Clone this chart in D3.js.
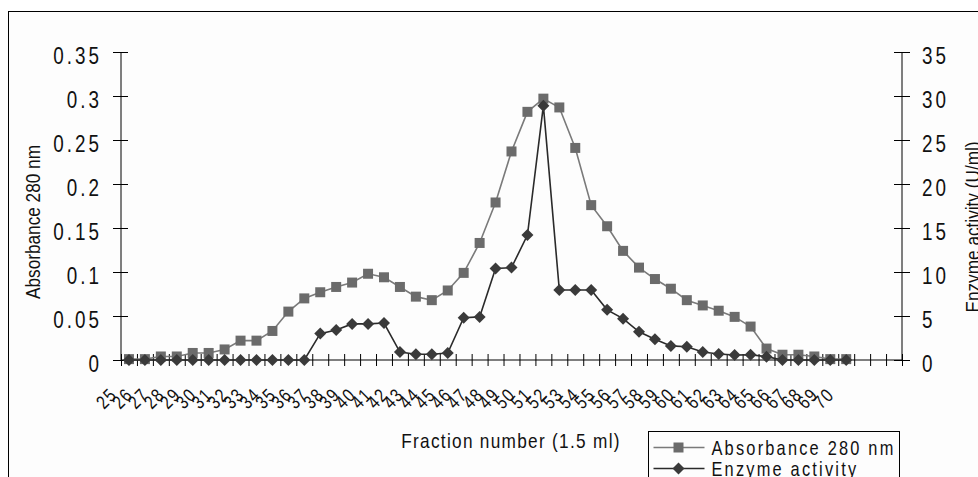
<!DOCTYPE html>
<html>
<head>
<meta charset="utf-8">
<script src="https://d3js.org/d3.v7.min.js"></script>
<style>
    body { margin: 0; background: #fff; }
    svg { display: block; font-family: "Liberation Sans", Arial, sans-serif; }
</style>
</head>
<body>
<script>

// fraction numbers on the x axis (3 empty slots follow at the end)
var fractions = ["25", "26", "27", "28", "29", "30", "31", "32", "33", "34",
    "35", "36", "37", "38", "39", "40", "41", "42", "43", "44",
    "45", "46", "47", "48", "49", "50", "51", "52", "53", "54",
    "55", "56", "57", "58", "59", "60", "61", "62", "63", "64",
    "65", "66", "67", "68", "69", "70"];
var emptySlots = 3;

// absorbance at 280 nm (left axis)
var absorbance = [0.001, 0.001, 0.004, 0.004, 0.008, 0.008, 0.012, 0.022, 0.022, 0.033,
    0.055, 0.070, 0.077, 0.083, 0.088, 0.098, 0.094, 0.083, 0.072, 0.068,
    0.079, 0.099, 0.133, 0.179, 0.237, 0.282, 0.297, 0.287, 0.241, 0.176,
    0.152, 0.124, 0.105, 0.092, 0.081, 0.068, 0.062, 0.056, 0.049, 0.038,
    0.013, 0.006, 0.006, 0.004, 0.001, 0.001];

// enzyme activity in U/ml (right axis)
var enzyme = [0, 0, 0, 0, 0, 0, 0, 0, 0, 0,
    0, 0, 3.0, 3.4, 4.1, 4.1, 4.2, 0.9, 0.65, 0.65,
    0.8, 4.8, 4.9, 10.4, 10.5, 14.2, 28.9, 7.95, 7.95, 7.95,
    5.7, 4.7, 3.2, 2.35, 1.6, 1.5, 0.9, 0.68, 0.57, 0.6,
    0.38, 0, 0, 0, 0, 0];

var absTicks = [0, 0.05, 0.1, 0.15, 0.2, 0.25, 0.3, 0.35];
var enzTicks = [0, 5, 10, 15, 20, 25, 30, 35];

var seriesNames = ["Absorbance 280 nm", "Enzyme activity"];

var svg, xBand, yLeft, yRight;

// the original uses a narrow face; squeeze the regular one horizontally
var narrow = 0.82;

drawChart();

/**
 * Draw the elution profile with both y axes
 */
function drawChart() {

    var width = 978, height = 477;
    var plot = { left: 121, right: 902, top: 52, bottom: 360 };
    var nSlots = fractions.length + emptySlots;
    var squeeze = "scale(" + narrow + ",1)";

    svg = d3.select("body").append("svg")
        .attr("width", width)
        .attr("height", height);

    // outer chart border
    svg.append("rect")
        .attr("x", 8.5).attr("y", 11.5)
        .attr("width", width).attr("height", height)
        .attr("fill", "#fdfdfd")
        .attr("stroke", "#000");

    // scales
    xBand = d3.scaleBand().domain(d3.range(nSlots)).range([plot.left, plot.right]);
    var xEdge = d3.scaleLinear().domain([0, nSlots]).range([plot.left, plot.right]);
    yLeft = d3.scaleLinear().domain([0, 0.35]).range([plot.bottom, plot.top]);
    yRight = d3.scaleLinear().domain([0, 35]).range([plot.bottom, plot.top]);

    function cx(i) { return xBand(i) + xBand.bandwidth() / 2; }

    // left axis
    var gl = svg.append("g")
        .attr("transform", "translate(" + plot.left + ",0)")
        .call(d3.axisLeft(yLeft).tickValues(absTicks).tickFormat(function(d) { return String(+d.toFixed(2)); }));
    gl.selectAll(".tick line").attr("x1", -8).attr("x2", 7);
    gl.selectAll(".tick text").attr("x", -19 / narrow).attr("dy", "0.5em");

    // right axis
    var gr = svg.append("g")
        .attr("transform", "translate(" + plot.right + ",0)")
        .call(d3.axisRight(yRight).tickValues(enzTicks));
    gr.selectAll(".tick line").attr("x1", -8).attr("x2", 8);
    gr.selectAll(".tick text").attr("x", 20 / narrow).attr("dy", "0.5em");

    [gl, gr].forEach(function(g) {
        g.select(".domain").attr("d", "M0," + plot.top + "V" + plot.bottom).attr("stroke", "#000");
        g.selectAll("text")
            .attr("transform", squeeze)
            .attr("font-size", 23)
            .attr("letter-spacing", (3 / narrow) + "px")
            .attr("fill", "#111");
    });

    // x axis: tick marks on category edges
    var gx = svg.append("g")
        .attr("transform", "translate(0," + plot.bottom + ")")
        .call(d3.axisBottom(xEdge).tickValues(d3.range(nSlots + 1)).tickFormat(""));
    gx.selectAll(".tick line").attr("y1", -6).attr("y2", 6);
    gx.select(".domain").attr("d", "M" + plot.left + ",0H" + plot.right);

    // x axis: rotated fraction labels
    svg.append("g")
        .selectAll("text")
        .data(fractions)
        .enter()
        .append("text")
        .attr("transform", function(d, i) {
            return "translate(" + (cx(i) - 11) + ",396) rotate(-45) " + squeeze;
        })
        .attr("text-anchor", "end")
        .attr("font-size", 19)
        .attr("letter-spacing", "1.5px")
        .attr("fill", "#111")
        .text(function(d) { return d; });

    // axis titles
    svg.append("text")
        .attr("transform", "translate(511,448) " + squeeze)
        .attr("text-anchor", "middle")
        .attr("font-size", 21)
        .attr("letter-spacing", (1.3 / narrow) + "px")
        .attr("fill", "#111")
        .text("Fraction number (1.5 ml)");

    svg.append("text")
        .attr("transform", "translate(40,222) rotate(-90) " + squeeze)
        .attr("text-anchor", "middle")
        .attr("font-size", 21)
        .attr("fill", "#111")
        .text("Absorbance 280 nm");

    svg.append("text")
        .attr("transform", "translate(980,227) rotate(-90) " + squeeze)
        .attr("text-anchor", "middle")
        .attr("font-size", 21)
        .attr("fill", "#111")
        .text("Enzyme activity (U/ml)");

    // absorbance line + square markers
    var absLine = d3.line()
        .x(function(d, i) { return cx(i); })
        .y(function(d) { return yLeft(d); });

    svg.append("path")
        .datum(absorbance)
        .attr("fill", "none")
        .attr("stroke", "#7a7a7a")
        .attr("stroke-width", 1.6)
        .attr("d", absLine);

    svg.append("g").selectAll("path")
        .data(absorbance)
        .enter()
        .append("path")
        .attr("d", d3.symbol(d3.symbolSquare, 100))
        .attr("transform", function(d, i) { return "translate(" + cx(i) + "," + yLeft(d) + ")"; })
        .attr("fill", "#6b6b6b");

    // enzyme line + diamond markers
    var enzLine = d3.line()
        .x(function(d, i) { return cx(i); })
        .y(function(d) { return yRight(d); });

    svg.append("path")
        .datum(enzyme)
        .attr("fill", "none")
        .attr("stroke", "#2a2a2a")
        .attr("stroke-width", 1.6)
        .attr("d", enzLine);

    svg.append("g").selectAll("path")
        .data(enzyme)
        .enter()
        .append("path")
        .attr("d", d3.symbol(d3.symbolSquare, 72))
        .attr("transform", function(d, i) { return "translate(" + cx(i) + "," + yRight(d) + ") rotate(45)"; })
        .attr("fill", "#3a3a3a");

    // legend
    var legend = svg.append("g").attr("transform", "translate(648.5,431.5)");
    legend.append("rect")
        .attr("width", 251).attr("height", 80)
        .attr("fill", "#fdfdfd")
        .attr("stroke", "#000");

    var entries = legend.selectAll("g.entry")
        .data(seriesNames)
        .enter()
        .append("g")
        .attr("transform", function(d, i) { return "translate(0," + (16 + i * 21) + ")"; });

    entries.append("line")
        .attr("x1", 5).attr("x2", 56)
        .attr("stroke", function(d, i) { return i === 0 ? "#7a7a7a" : "#2a2a2a"; })
        .attr("stroke-width", 1.6);

    entries.append("path")
        .attr("d", function(d, i) { return i === 0 ? d3.symbol(d3.symbolSquare, 100)() : d3.symbol(d3.symbolSquare, 72)(); })
        .attr("transform", function(d, i) { return "translate(30,0)" + (i === 0 ? "" : " rotate(45)"); })
        .attr("fill", function(d, i) { return i === 0 ? "#6b6b6b" : "#3a3a3a"; });

    entries.append("text")
        .attr("transform", "translate(63,7) " + squeeze)
        .attr("font-size", 20)
        .attr("letter-spacing", (2.2 / narrow) + "px")
        .attr("fill", "#111")
        .text(function(d) { return d; });
}
</script>
</body>
</html>
